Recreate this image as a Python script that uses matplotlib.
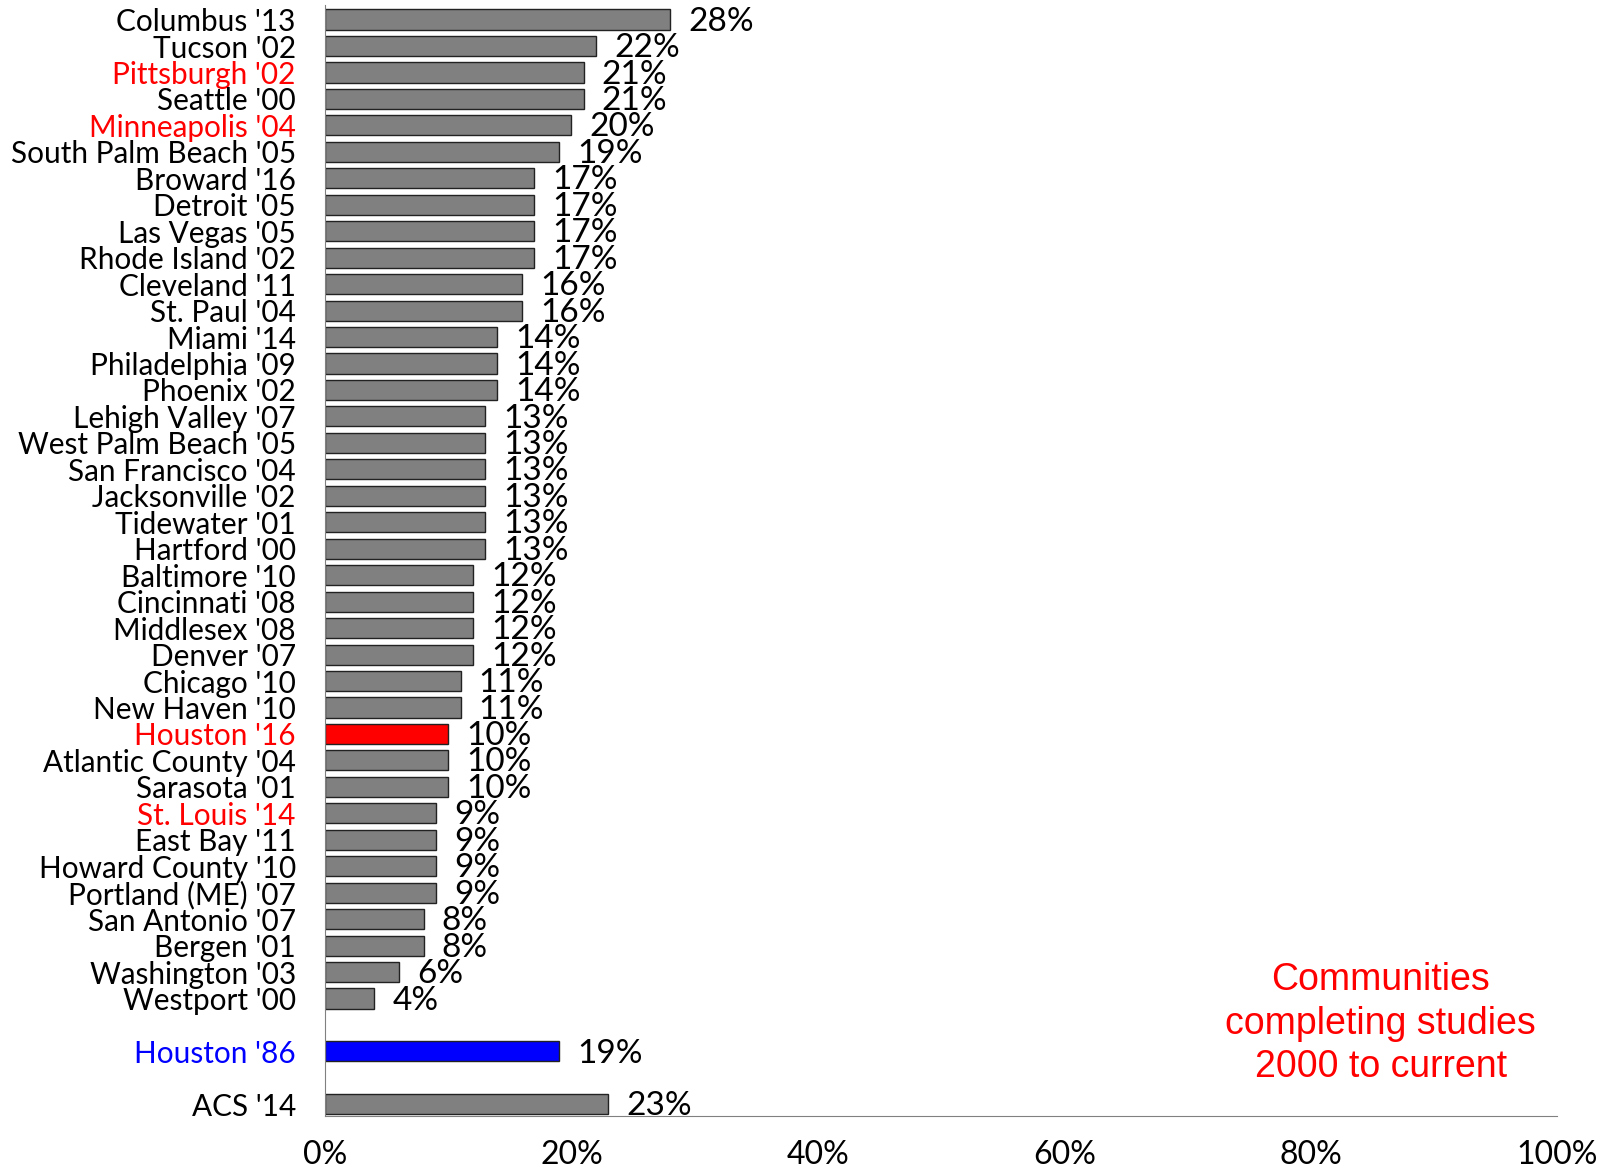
import matplotlib
matplotlib.use("Agg")
import matplotlib.pyplot as plt
from matplotlib.ticker import FuncFormatter

# community studies, 2000 to current, followed by the two reference rows
communities = ["Columbus '13", "Tucson '02", "Pittsburgh '02", "Seattle '00", "Minneapolis '04",
               "South Palm Beach '05", "Broward '16", "Detroit '05", "Las Vegas '05", "Rhode Island '02",
               "Cleveland '11", "St. Paul '04", "Miami '14", "Philadelphia '09", "Phoenix '02",
               "Lehigh Valley '07", "West Palm Beach '05", "San Francisco '04", "Jacksonville '02",
               "Tidewater '01", "Hartford '00", "Baltimore '10", "Cincinnati '08", "Middlesex '08",
               "Denver '07", "Chicago '10", "New Haven '10", "Houston '16", "Atlantic County '04",
               "Sarasota '01", "St. Louis '14", "East Bay '11", "Howard County '10", "Portland (ME) '07",
               "San Antonio '07", "Bergen '01", "Washington '03", "Westport '00"]
community_pct = [28, 22, 21, 21, 20, 19, 17, 17, 17, 17, 16, 16, 14, 14, 14, 13, 13, 13, 13, 13, 13,
                 12, 12, 12, 12, 11, 11, 10, 10, 10, 9, 9, 9, 9, 8, 8, 6, 4]
extra_labels = ["Houston '86", "ACS '14"]
extra_pct = [19, 23]

red_labels = ["Pittsburgh '02", "Minneapolis '04", "Houston '16", "St. Louis '14"]
xticks = [0, 20, 40, 60, 80, 100]

labels = communities + extra_labels
values = community_pct + extra_pct
ypos = list(range(len(communities))) + [len(communities) + 1, len(communities) + 3]

bar_colors = []
text_colors = []
for lab in labels:
    if lab == "Houston '16":
        bar_colors.append("#ff0000")
    elif lab == "Houston '86":
        bar_colors.append("#0000ff")
    else:
        bar_colors.append("#808080")
    if lab in red_labels:
        text_colors.append("#ff0000")
    elif lab == "Houston '86":
        text_colors.append("#0000ff")
    else:
        text_colors.append("black")

fnt = "Lato"

fig = plt.figure(figsize=(16.08, 11.70), dpi=100)
ax = fig.add_axes([325 / 1608, 54 / 1170, 1232 / 1608, 1111 / 1170])

ax.barh(ypos, values, height=0.76, color=bar_colors, edgecolor="#222222", linewidth=1.0)

for y, v in zip(ypos, values):
    ax.annotate(f"{v}%", (v, y), xytext=(13, -1.5), textcoords="offset points",
                va="center", ha="left", fontsize=24, family=fnt)

ax.set_xlim(0, 100)
ax.set_ylim(ypos[-1] + 0.44, -0.55)
ax.set_yticks(ypos)
ax.set_yticklabels(labels, fontsize=21.4, family=fnt)
for t, c in zip(ax.get_yticklabels(), text_colors):
    t.set_color(c)
ax.set_xticks(xticks)
ax.xaxis.set_major_formatter(FuncFormatter(lambda x, p: f"{x:.0f}%"))
for t in ax.get_xticklabels():
    t.set_fontsize(23)
    t.set_family(fnt)
ax.tick_params(axis="both", length=0)
ax.tick_params(axis="y", pad=21)
ax.tick_params(axis="x", pad=17)

for s in ["top", "right"]:
    ax.spines[s].set_visible(False)
ax.spines["left"].set_color("#808080")
ax.spines["bottom"].set_color("#808080")

ax.text(0.857, 0.083, "Communities\ncompleting studies\n2000 to current", transform=ax.transAxes,
        ha="center", va="center", color="#ff0000", fontsize=27, family="Liberation Sans",
        linespacing=1.27)

fig.savefig("out.png", dpi=100)
